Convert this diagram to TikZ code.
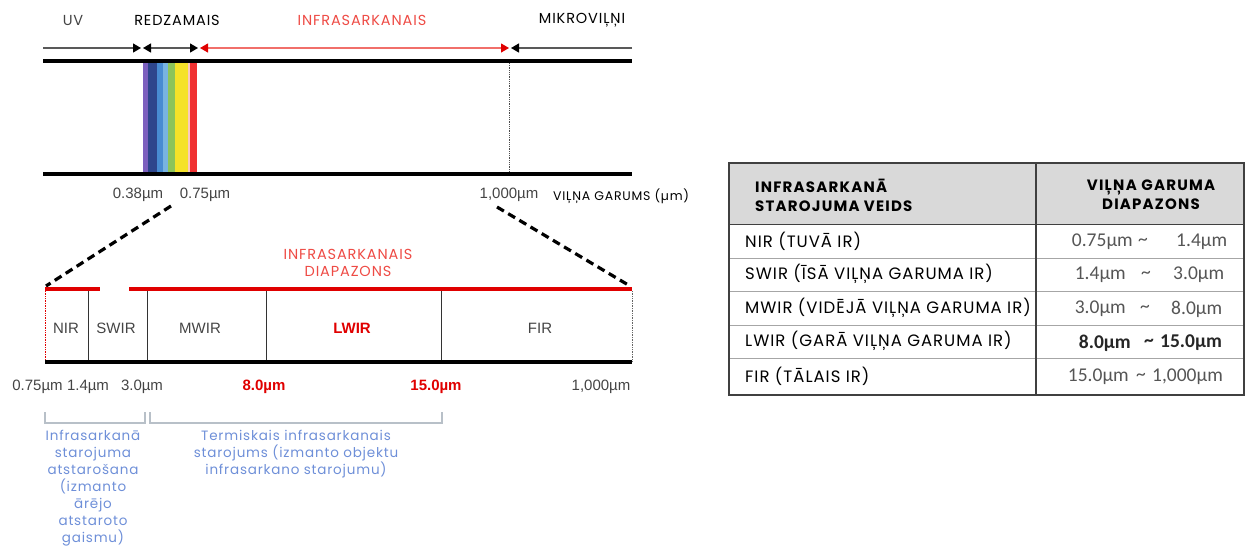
\documentclass[tikz,border=0pt]{standalone}
\usepackage{fontspec}
\setmainfont{Poppins}
\newfontfamily\arialf{Liberation Sans}
\newfontfamily\calf{Carlito}
\newfontfamily\wideA[LetterSpace=6]{Poppins}
\newfontfamily\wideB[LetterSpace=6]{Poppins}
\newfontfamily\wideC[LetterSpace=8]{Poppins}
\usetikzlibrary{arrows.meta}
\definecolor{irtxt}{HTML}{EE4B45}
\definecolor{irline}{HTML}{E00000}
\definecolor{bluetxt}{HTML}{6E8FD8}
\definecolor{brk}{HTML}{B8C0C8}
\definecolor{hdr}{HTML}{D9D9D9}
\definecolor{numgray}{HTML}{444444}
\definecolor{valgray}{HTML}{555555}
\begin{document}
\begin{tikzpicture}[x=1pt,y=-1pt,
  toplbl/.style={font=\wideA\fontsize{14.5}{16}\selectfont, inner sep=0pt},
  numlbl/.style={font=\arialf\fontsize{15}{17}\selectfont, text=numgray, inner sep=0pt},
  boldnum/.style={font=\arialf\bfseries\fontsize{15}{17}\selectfont, text=irline, inner sep=0pt},
  boxlbl/.style={font=\arialf\fontsize{15}{17}\selectfont, text=numgray, inner sep=0pt},
  bluelbl/.style={font=\wideB\fontsize{13.5}{17}\selectfont, text=bluetxt, align=center, inner sep=0pt, anchor=north},
  blkarrow/.style={line width=1.3pt, black!65},
  thickbar/.style={line width=4pt, black},
  dashbar/.style={line width=3.2pt, dash pattern=on 8pt off 5pt},
  cell/.style={font=\wideB\fontsize{16.5}{19}\selectfont, anchor=west, inner sep=0pt},
  hcell/.style={font=\wideC\bfseries\fontsize{15}{19}\selectfont, inner sep=0pt},
  val/.style={font=\calf\fontsize{19.5}{21}\selectfont, text=valgray, inner sep=0pt},
  bval/.style={font=\calf\bfseries\fontsize{19.5}{21}\selectfont, text=black!85, inner sep=0pt}
]
\useasboundingbox (0,0) rectangle (1245,547);
% top labels
\node[toplbl, text=numgray] (uv) at (73,20) {UV};
\node[toplbl] (vis) at (177,20) {REDZAMAIS};
\node[toplbl, text=irtxt] (ir) at (362,20) {INFRASARKANAIS};
\node[toplbl] (mw) at (582,20) {MIKROVIĻŅI};
% arrow row
\coordinate (a0) at (43,48);
\coordinate (a1) at (141,48);
\coordinate (a2) at (143,48);
\coordinate (a3) at (198,48);
\coordinate (a4) at (200,48);
\coordinate (a5) at (509,48);
\coordinate (a6) at (511,48);
\coordinate (a7) at (632,48);
\draw[blkarrow, -{Triangle[length=8pt,width=9pt,fill=black,color=black]}] (a0) -- (a1);
\draw[blkarrow, {Triangle[length=8pt,width=9pt,fill=black,color=black]}-{Triangle[length=8pt,width=9pt,fill=black,color=black]}] (a2) -- (a3);
\draw[line width=1.1pt, irtxt!80, {Triangle[length=8pt,width=9pt,fill=irline,color=irline]}-{Triangle[length=8pt,width=9pt,fill=irline,color=irline]}] (a4) -- (a5);
\draw[blkarrow, -{Triangle[length=8pt,width=9pt,fill=black,color=black]}] (a7) -- (a6);
% spectrum
\fill[color={rgb,255:red,124;green,96;blue,190}] (143,63) rectangle (148,172);
\fill[color={rgb,255:red,46;green,70;blue,140}] (148,63) rectangle (157,172);
\fill[color={rgb,255:red,72;green,140;blue,210}] (157,63) rectangle (163,172);
\fill[color={rgb,255:red,120;green,180;blue,225}] (163,63) rectangle (168,172);
\fill[color={rgb,255:red,140;green,196;blue,90}] (168,63) rectangle (175,172);
\fill[color={rgb,255:red,245;green,226;blue,40}] (175,63) rectangle (188,172);
\fill[color={rgb,255:red,250;green,200;blue,190}] (188,63) rectangle (190,172);
\fill[color={rgb,255:red,240;green,50;blue,50}] (190,63) rectangle (197,172);
\draw[thickbar] (43,61) -- (632,61);
\draw[thickbar] (43,174) -- (632,174);
\draw[densely dotted, line width=0.8pt, black!70] (509,63) -- (509,172);
% wavelength labels
\node[numlbl] (l038) at (138,195) {0.38µm};
\node[numlbl] (l075) at (205,195) {0.75µm};
\node[numlbl] (l1000) at (509,195) {1,000µm};
\node[font=\wideA\fontsize{12.5}{14}\selectfont, anchor=west, inner sep=0pt] (wl) at (553,196) {VIĻŅA GARUMS (µm)};
% zoom lines
\coordinate (zl0) at (171,206);
\coordinate (zl1) at (46,286);
\coordinate (zr0) at (497,207);
\coordinate (zr1) at (630,286);
\draw[dashbar] (zl0) -- (zl1);
\draw[dashbar] (zr0) -- (zr1);
\node[font=\wideA\fontsize{14.5}{16.5}\selectfont, text=irtxt, align=center, inner sep=0pt] (ird) at (348,263) {INFRASARKANAIS\\DIAPAZONS};
% red band
\draw[line width=3.5pt, irline] (45,289) -- (100,289);
\draw[line width=3.5pt, irline] (129,289) -- (632,289);
% dividers
\draw[densely dotted, irline, line width=0.7pt] (45,291) -- (45,361);
\draw[black!80, line width=0.8pt] (88,291) -- (88,361);
\draw[black!80, line width=0.8pt] (147,291) -- (147,361);
\draw[black!80, line width=0.8pt] (266,291) -- (266,361);
\draw[black!80, line width=0.8pt] (441,291) -- (441,361);
\draw[densely dotted, black!60, line width=0.7pt] (632,291) -- (632,361);
\draw[thickbar] (45,362) -- (632,362);
% box labels
\node[boxlbl] (nir) at (66,328) {NIR};
\node[boxlbl] (swir) at (116,328) {SWIR};
\node[boxlbl] (mwir) at (200,328) {MWIR};
\node[boxlbl, font=\arialf\bfseries\fontsize{15}{17}\selectfont, text=irline] (lwir) at (352,328) {LWIR};
\node[boxlbl] (fir) at (540,328) {FIR};
% numbers under
\node[numlbl] (n075) at (37.5,387) {0.75µm};
\node[numlbl] (n14) at (88,387) {1.4µm};
\node[numlbl] (n30) at (142,387) {3.0µm};
\node[boldnum] (n80) at (264,387) {8.0µm};
\node[boldnum] (n150) at (436,387) {15.0µm};
\node[numlbl] (n1000) at (601,387) {1,000µm};
% brackets
\draw[brk, line width=1.3pt] (45,412) -- (45,423) -- (145,423) -- (145,412);
\draw[brk, line width=1.3pt] (150,412) -- (150,423) -- (442,423) -- (442,412);
\node[bluelbl] (refl) at (93,430) {Infrasarkanā\\starojuma\\atstarošana\\(izmanto\\ārējo\\atstaroto\\gaismu)};
\node[bluelbl] (therm) at (296,430) {Termiskais infrasarkanais\\starojums (izmanto objektu\\infrasarkano starojumu)};
% table
\fill[hdr] (729,163) rectangle (1244,224);
\foreach \yy in {258,291,325,358} \draw[black!35, line width=0.8pt] (729,\yy) -- (1244,\yy);
\draw[black!75, line width=1pt] (729,224) -- (1244,224);
\draw[black!75, line width=1.4pt] (1036,163) -- (1036,395);
\draw[black!75, line width=1.6pt] (729,163) rectangle (1244,395);
\node[hcell, anchor=west, align=left] (h1) at (755,195) {INFRASARKANĀ\\STAROJUMA VEIDS};
\node[hcell, align=center] (h2) at (1151,195) {VIĻŅA GARUMA\\DIAPAZONS};
\node[cell] (r1) at (745,241) {NIR (TUVĀ IR)};
\node[cell] (r2) at (745,274) {SWIR (ĪSĀ VIĻŅA GARUMA IR)};
\node[cell] (r3) at (745,308) {MWIR (VIDĒJĀ VIĻŅA GARUMA IR)};
\node[cell] (r4) at (745,341) {LWIR (GARĀ VIĻŅA GARUMA IR)};
\node[cell] (r5) at (745,376) {FIR (TĀLAIS IR)};
% values
\node[val, anchor=east] (v1a) at (1133,242) {0.75µm};
\node[val] (v1t) at (1143,242) {\textasciitilde};
\node[val, anchor=west] (v1b) at (1176,242) {1.4µm};
\node[val, anchor=east] (v2a) at (1126,275) {1.4µm};
\node[val] (v2t) at (1146,275) {\textasciitilde};
\node[val, anchor=west] (v2b) at (1173,275) {3.0µm};
\node[val, anchor=east] (v3a) at (1126,309) {3.0µm};
\node[val] (v3t) at (1145,309) {\textasciitilde};
\node[val, anchor=west] (v3b) at (1171,309) {8.0µm};
\node[bval, anchor=east] (v4a) at (1131,343) {8.0µm};
\node[bval] (v4t) at (1149,343) {\textasciitilde};
\node[bval, anchor=west] (v4b) at (1160,343) {15.0µm};
\node[val, anchor=east] (v5a) at (1129,377) {15.0µm};
\node[val] (v5t) at (1141,377) {\textasciitilde};
\node[val, anchor=west] (v5b) at (1152,377) {1,000µm};
\end{tikzpicture}
\end{document}
